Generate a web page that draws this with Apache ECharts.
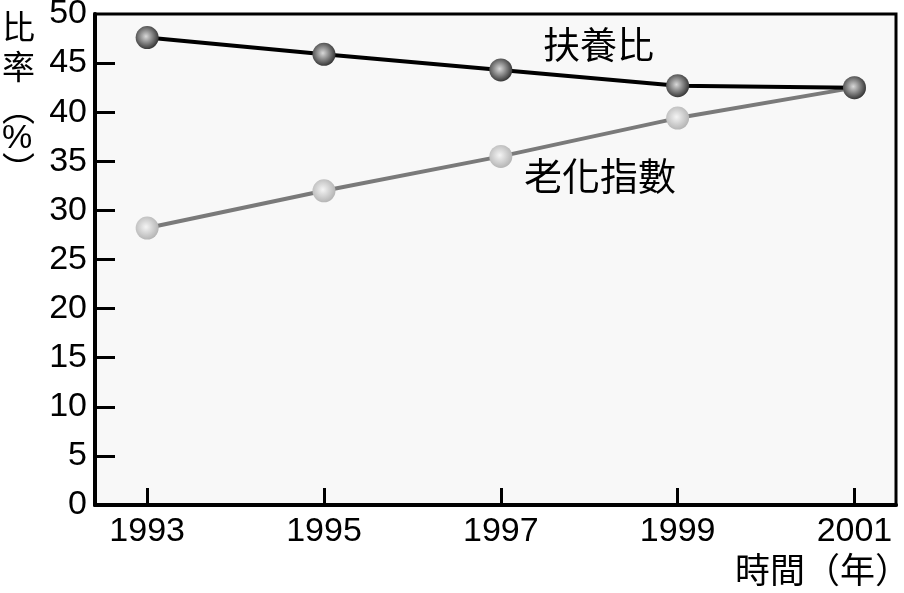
<!DOCTYPE html>
<html><head><meta charset="utf-8">
<script src="https://cdn.jsdelivr.net/npm/echarts@6/dist/echarts.min.js"></script>
<style>html,body{margin:0;padding:0;background:#fff}#c{width:904px;height:593px}</style>
</head><body><div id="c"></div>
<script>
const years = [1993, 1995, 1997, 1999, 2001];
const dependencyRatio = [47.6, 45.9, 44.3, 42.7, 42.5];
const agingIndex = [28.2, 32.0, 35.5, 39.4, 42.5];
const yTicks = [0, 5, 10, 15, 20, 25, 30, 35, 40, 45, 50];
const seriesNames = ['扶養比', '老化指數'];

const numFont = "'Liberation Sans', sans-serif";
const cjkFont = "'Noto Sans CJK TC', 'Noto Sans CJK SC', sans-serif";

function sphere(light, dark) {
  return {
    type: 'radial', x: 0.45, y: 0.45, r: 0.6,
    colorStops: [{offset: 0, color: light}, {offset: 1, color: dark}]
  };
}

const chart = echarts.init(document.getElementById('c'));
chart.setOption({
  animation: false,
  backgroundColor: '#ffffff',
  grid: {left: 95, top: 14, right: 8, bottom: 88, show: true, outerBoundsMode: 'none', containLabel: false,
         backgroundColor: '#f8f8f8', borderColor: '#000', borderWidth: 3},
  xAxis: {
    type: 'value', min: 1992.41, max: 2001.47,
    splitLine: {show: false},
    axisLine: {lineStyle: {color: '#000', width: 4}},
    axisTick: {inside: true, length: 17, lineStyle: {color: '#000', width: 3}, customValues: years},
    axisLabel: {color: '#000', fontSize: 34, fontFamily: numFont, margin: 10,
                customValues: years, formatter: v => String(v)}
  },
  yAxis: {
    type: 'value', min: 0, max: 50, interval: 5,
    splitLine: {show: false},
    axisLine: {lineStyle: {color: '#000', width: 4}},
    axisTick: {inside: true, length: 20, lineStyle: {color: '#000', width: 3}, customValues: yTicks.slice(1, -1)},
    axisLabel: {color: '#000', fontSize: 34, fontFamily: numFont, margin: 8,
                customValues: yTicks, formatter: v => String(v)}
  },
  graphic: [
    {type: 'text', left: 2, top: 6, style: {text: '比\n率', font: '33px ' + cjkFont, fill: '#000', lineHeight: 40}},
    {type: 'text', left: 2, top: 92, style: {text: '︵', font: '33px ' + cjkFont, fill: '#000'}},
    {type: 'text', left: 2, top: 122, style: {text: '%', font: '34px ' + numFont, fill: '#000'}},
    {type: 'text', left: 2, top: 152, style: {text: '︶', font: '33px ' + cjkFont, fill: '#000'}},
    {type: 'text', left: 735, top: 552, style: {text: '時間（年）', font: '35px ' + cjkFont, fill: '#000'}},
    {type: 'text', left: 543, top: 26, style: {text: seriesNames[0], font: '37px ' + cjkFont, fill: '#000'}},
    {type: 'text', left: 524, top: 157, style: {text: seriesNames[1], font: '38px ' + cjkFont, fill: '#000'}}
  ],
  series: [
    {
      name: seriesNames[1], type: 'line', z: 2,
      data: years.map((y, i) => [y, agingIndex[i]]),
      lineStyle: {color: '#7a7a7a', width: 4},
      symbol: 'circle', symbolSize: 23,
      itemStyle: {color: sphere('#f4f4f4', '#b0b0b0'), borderWidth: 0}
    },
    {
      name: seriesNames[0], type: 'line', z: 3,
      data: years.map((y, i) => [y, dependencyRatio[i]]),
      lineStyle: {color: '#000', width: 4},
      symbol: 'circle', symbolSize: 23,
      itemStyle: {color: sphere('#d8d8d8', '#2a2a2a'), borderWidth: 0}
    }
  ]
});
</script></body></html>
